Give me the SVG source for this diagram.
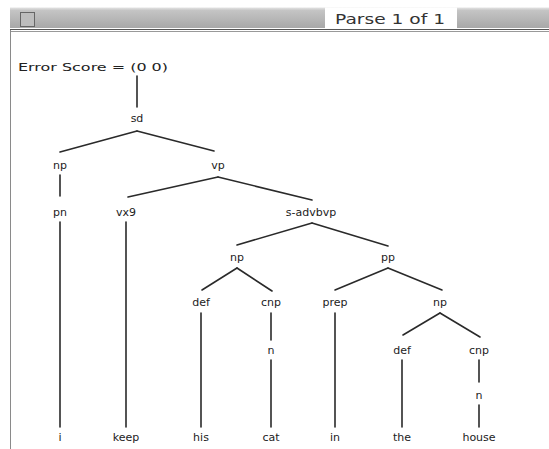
<svg xmlns="http://www.w3.org/2000/svg" width="549" height="449" viewBox="0 0 549 449">
  <defs>
    <linearGradient id="barFill" x1="0" y1="0" x2="0" y2="1">
      <stop offset="0" stop-color="#e4e4e4"/>
      <stop offset="0.15" stop-color="#c4c4c4"/>
      <stop offset="1" stop-color="#a8a8a8"/>
    </linearGradient>
  </defs>
  <style>
    .lbl { font-family: "DejaVu Sans", "Liberation Sans", sans-serif; font-size: 11px; fill: #222; text-anchor: middle; }
    .edge { stroke: #2a2a2a; stroke-width: 1.6; fill: none; stroke-linecap: round; }
    .title { font-family: "DejaVu Sans", "Liberation Sans", sans-serif; font-size: 14px; fill: #333; }
  </style>
  <rect width="549" height="449" fill="#ffffff"/>

  <!-- window frame -->
  <g id="window">
    <rect x="10" y="7.5" width="539" height="20.5" fill="url(#barFill)"/>
    <rect x="325" y="7.5" width="132" height="20.5" fill="#ffffff"/>
    <rect x="20.5" y="12.5" width="14" height="14" fill="#bdbdbd" stroke="#666" stroke-width="1"/>
    <text class="title" x="335" y="24" textLength="110" lengthAdjust="spacingAndGlyphs">Parse 1 of 1</text>
    <line x1="10" y1="29.5" x2="549" y2="29.5" stroke="#555" stroke-width="1.2"/>
    <line x1="10" y1="31.5" x2="549" y2="31.5" stroke="#999" stroke-width="1"/>
    <line x1="10.5" y1="30" x2="10.5" y2="449" stroke="#8a8a8a" stroke-width="1"/>
  </g>

  <text class="lbl" x="18" y="71" style="text-anchor:start" textLength="150" lengthAdjust="spacingAndGlyphs">Error Score = (0 0)</text>

  <!-- tree connectors -->
  <g id="connectors">
    <line class="edge" x1="137" y1="76" x2="137" y2="107"/>
    <line class="edge" x1="137" y1="131" x2="60" y2="152"/>
    <line class="edge" x1="137" y1="131" x2="214" y2="151"/>
    <line class="edge" x1="60" y1="175" x2="60" y2="196"/>
    <line class="edge" x1="218" y1="177" x2="128" y2="197"/>
    <line class="edge" x1="218" y1="177" x2="312" y2="200"/>
    <line class="edge" x1="60" y1="222" x2="60" y2="427"/>
    <line class="edge" x1="126" y1="222" x2="126" y2="427"/>
    <line class="edge" x1="312" y1="223" x2="237" y2="245"/>
    <line class="edge" x1="312" y1="223" x2="388" y2="246"/>
    <line class="edge" x1="237" y1="268" x2="202" y2="290"/>
    <line class="edge" x1="237" y1="268" x2="272" y2="291"/>
    <line class="edge" x1="388" y1="268" x2="335" y2="290"/>
    <line class="edge" x1="388" y1="268" x2="442" y2="290"/>
    <line class="edge" x1="201" y1="313" x2="201" y2="427"/>
    <line class="edge" x1="271" y1="313" x2="271" y2="340"/>
    <line class="edge" x1="271" y1="360" x2="271" y2="427"/>
    <line class="edge" x1="335" y1="313" x2="335" y2="427"/>
    <line class="edge" x1="440" y1="313" x2="403" y2="335"/>
    <line class="edge" x1="440" y1="313" x2="480" y2="337"/>
    <line class="edge" x1="402" y1="360" x2="402" y2="427"/>
    <line class="edge" x1="479" y1="360" x2="479" y2="382"/>
    <line class="edge" x1="479" y1="405" x2="479" y2="427"/>
  </g>

  <!-- tree nodes -->
  <g id="n-sd"><text class="lbl" x="137" y="122">sd</text></g>
  <g id="n-np1"><text class="lbl" x="60" y="169">np</text></g>
  <g id="n-vp"><text class="lbl" x="218" y="169">vp</text></g>
  <g id="n-pn"><text class="lbl" x="60" y="216">pn</text></g>
  <g id="n-vx9"><text class="lbl" x="126" y="216">vx9</text></g>
  <g id="n-sadvbvp"><text class="lbl" x="311" y="216">s-advbvp</text></g>
  <g id="n-np2"><text class="lbl" x="237" y="261">np</text></g>
  <g id="n-pp"><text class="lbl" x="388" y="261">pp</text></g>
  <g id="n-def1"><text class="lbl" x="201" y="306">def</text></g>
  <g id="n-cnp1"><text class="lbl" x="271" y="306">cnp</text></g>
  <g id="n-prep"><text class="lbl" x="335" y="306">prep</text></g>
  <g id="n-np3"><text class="lbl" x="440" y="306">np</text></g>
  <g id="n-n1"><text class="lbl" x="271" y="354">n</text></g>
  <g id="n-def2"><text class="lbl" x="402" y="354">def</text></g>
  <g id="n-cnp2"><text class="lbl" x="479" y="354">cnp</text></g>
  <g id="n-n2"><text class="lbl" x="479" y="399">n</text></g>
  <g id="w-i"><text class="lbl" x="60" y="441">i</text></g>
  <g id="w-keep"><text class="lbl" x="126" y="441">keep</text></g>
  <g id="w-his"><text class="lbl" x="201" y="441">his</text></g>
  <g id="w-cat"><text class="lbl" x="271" y="441">cat</text></g>
  <g id="w-in"><text class="lbl" x="335" y="441">in</text></g>
  <g id="w-the"><text class="lbl" x="402" y="441">the</text></g>
  <g id="w-house"><text class="lbl" x="479" y="441">house</text></g>
</svg>
